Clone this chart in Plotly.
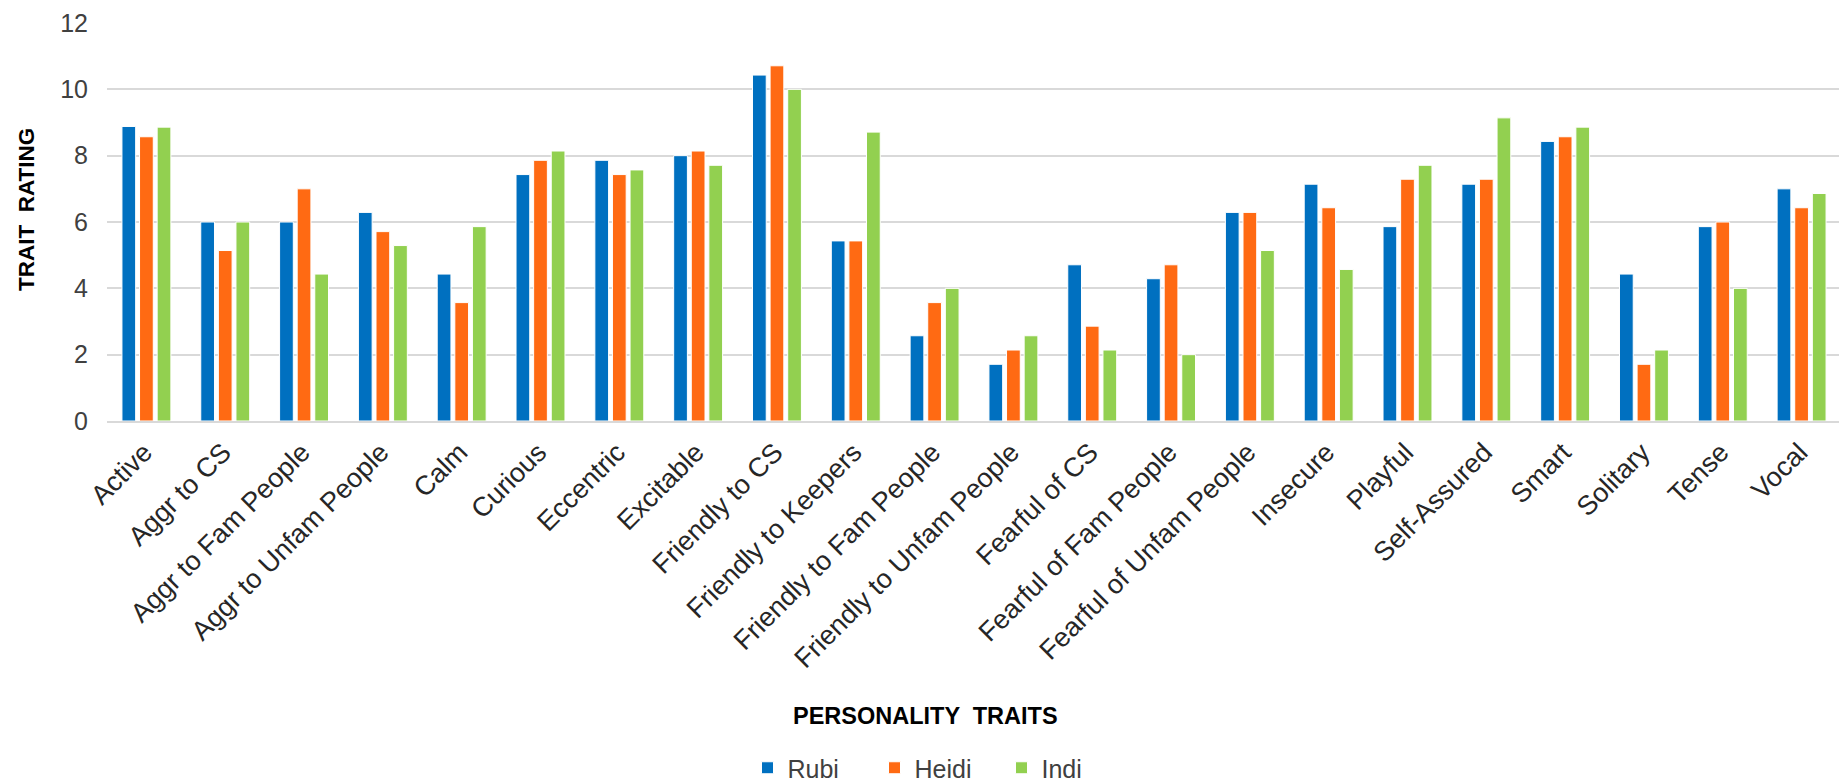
import plotly.graph_objects as go

categories = ["Active", "Aggr to CS", "Aggr to Fam People", "Aggr to Unfam People", "Calm",
              "Curious", "Eccentric", "Excitable", "Friendly to CS", "Friendly to Keepers",
              "Friendly to Fam People", "Friendly to Unfam People", "Fearful of CS",
              "Fearful of Fam People", "Fearful of Unfam People", "Insecure", "Playful",
              "Self-Assured", "Smart", "Solitary", "Tense", "Vocal"]

rubi = [8.88, 6.0, 6.0, 6.29, 4.43, 7.43, 7.86, 8.0, 10.43, 5.43, 2.57, 1.71, 4.71,
        4.29, 6.29, 7.14, 5.86, 7.14, 8.43, 4.43, 5.86, 7.0]
heidi = [8.57, 5.14, 7.0, 5.71, 3.57, 7.86, 7.43, 8.14, 10.71, 5.43, 3.57, 2.14, 2.86,
         4.71, 6.29, 6.43, 7.29, 7.29, 8.57, 1.71, 6.0, 6.43]
indi = [8.86, 6.0, 4.43, 5.29, 5.86, 8.14, 7.57, 7.71, 10.0, 8.71, 4.0, 2.57, 2.14,
        2.0, 5.14, 4.57, 7.71, 9.14, 8.86, 2.14, 4.0, 6.86]

series = [("Rubi", rubi, "#0070C0"), ("Heidi", heidi, "#FF6A13"), ("Indi", indi, "#92D050")]

FONT = "Liberation Sans, Arial, sans-serif"

fig = go.Figure()
for name, vals, color in series:
    fig.add_trace(go.Bar(x=categories, y=vals, name=name,
                         marker=dict(color=color, line=dict(color="white", width=1))))

# The page body has a default 8px margin, so the figure is drawn 8px in from the window edge.
W, H = 1839, 775
L, R, T, B = 99, 6, 15, 362
ph = H - T - B
pw = W - L - R
bottom = H - B

fig.update_layout(
    width=W, height=H,
    margin=dict(l=L, r=R, t=T, b=B, autoexpand=False),
    paper_bgcolor="white", plot_bgcolor="white",
    barmode="group", bargap=0.33, bargroupgap=0.22,
    font=dict(family=FONT, color="#404040", size=20),
    showlegend=True,
    legend=dict(orientation="h", x=(930 - L) / pw, xanchor="center",
                y=-(760 - bottom) / ph, yanchor="middle",
                font=dict(size=25, color="#404040"),
                entrywidth=82, itemwidth=30, traceorder="normal"),
    xaxis=dict(tickangle=-45, tickfont=dict(size=27, color="#262626"),
               showgrid=False, showline=True, linecolor="#D9D9D9", linewidth=1.5,
               ticks="", ticklabelshift=-2, ticklabelstandoff=3),
    yaxis=dict(range=[0, 12], dtick=2, tickfont=dict(size=25, color="#404040"),
               showgrid=True, gridcolor="#D9D9D9", gridwidth=1.5,
               zeroline=False, ticks="", ticklabelstandoff=18,
               ticklabeloverflow="allow"),
    annotations=[
        dict(text="<b>PERSONALITY  TRAITS</b>", xref="paper", yref="paper",
             x=(917 - L) / pw, y=-(708 - bottom) / ph, xanchor="center", yanchor="middle",
             showarrow=False, font=dict(size=23.5, color="black", family=FONT)),
        dict(text="<b>TRAIT  RATING</b>", xref="paper", yref="paper",
             x=(18 - L) / pw, y=0.530, xanchor="center", yanchor="middle",
             textangle=-90, showarrow=False,
             font=dict(size=22.5, color="black", family=FONT)),
    ],
)

fig.write_html("out.html")
